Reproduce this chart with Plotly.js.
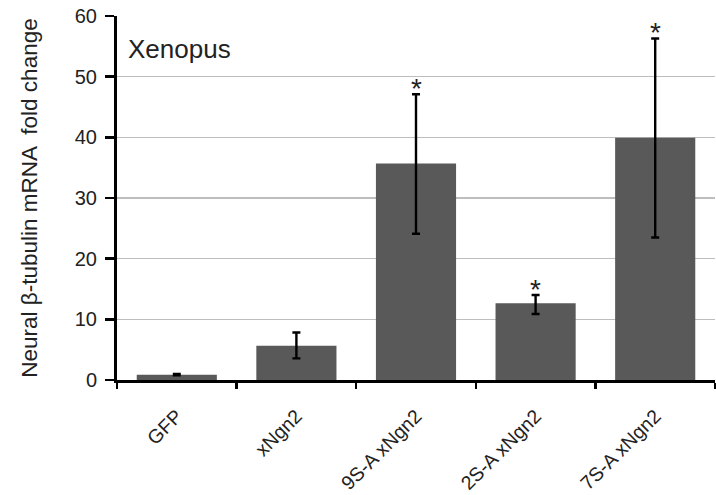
<!DOCTYPE html>
<html>
<head>
<meta charset="utf-8">
<script src="https://cdn.plot.ly/plotly-3.0.1.min.js"></script>
<style>html,body{margin:0;padding:0;background:#fff;}#chart{width:716px;height:495px;}</style>
</head>
<body>
<div id="chart"></div>
<script>
const categories = ["GFP", "xNgn2", "9S-A xNgn2", "2S-A xNgn2", "7S-A xNgn2"];
const foldChange = [0.88, 5.66, 35.7, 12.64, 39.95];
const errorPlus = [0.12, 2.18, 11.4, 1.37, 16.35];
const errorMinus = [0.12, 2.09, 11.6, 1.76, 16.45];
const significant = [false, false, true, true, true];
const yTitle = "Neural β-tubulin mRNA  fold change";
const panelLabel = "Xenopus";

const font = "Liberation Sans, Arial, sans-serif";

const annotations = [];
categories.forEach((c, i) => {
  if (significant[i]) {
    annotations.push({
      x: c, y: foldChange[i] + errorPlus[i], xref: "x", yref: "y",
      text: "*", showarrow: false, yanchor: "middle", yshift: 6,
      font: {family: font, size: 28, color: "#222"}
    });
  }
});
annotations.push({
  x: 0.015, y: 0.91, xref: "paper", yref: "paper", xanchor: "left", yanchor: "middle",
  text: panelLabel, showarrow: false, font: {family: font, size: 26, color: "#222"}
});

const trace = {
  type: "bar",
  x: categories,
  y: foldChange,
  marker: {color: "#595959", line: {width: 0}},
  width: 0.67,
  error_y: {
    type: "data", symmetric: false,
    array: errorPlus, arrayminus: errorMinus,
    color: "#000", thickness: 2.4, width: 4
  }
};

const layout = {
  width: 716, height: 495,
  margin: {l: 117, r: 1, t: 16, b: 115},
  paper_bgcolor: "#fff", plot_bgcolor: "#fff",
  showlegend: false,
  font: {family: font, size: 20, color: "#222"},
  xaxis: {
    type: "category",
    showline: true, linecolor: "#000", linewidth: 3,
    ticks: "outside", tickson: "boundaries", ticklen: 6, tickwidth: 2.5, tickcolor: "#000",
    tickangle: -45, ticklabelstandoff: 14,
    tickfont: {family: font, size: 19.5, color: "#222"},
    showgrid: false, zeroline: false
  },
  yaxis: {
    range: [0, 60], dtick: 10,
    showline: true, linecolor: "#000", linewidth: 3,
    ticks: "outside", ticklen: 9, tickwidth: 2.5, tickcolor: "#000",
    ticklabelstandoff: 4,
    tickfont: {family: font, size: 20, color: "#222"},
    showgrid: true, gridcolor: "#bdbdbd", gridwidth: 1.3,
    zeroline: false,
    title: {text: yTitle, font: {family: font, size: 22.5, color: "#222"}, standoff: 31}
  },
  annotations: annotations
};

Plotly.newPlot("chart", [trace], layout, {displayModeBar: false, staticPlot: true});
</script>
</body>
</html>
